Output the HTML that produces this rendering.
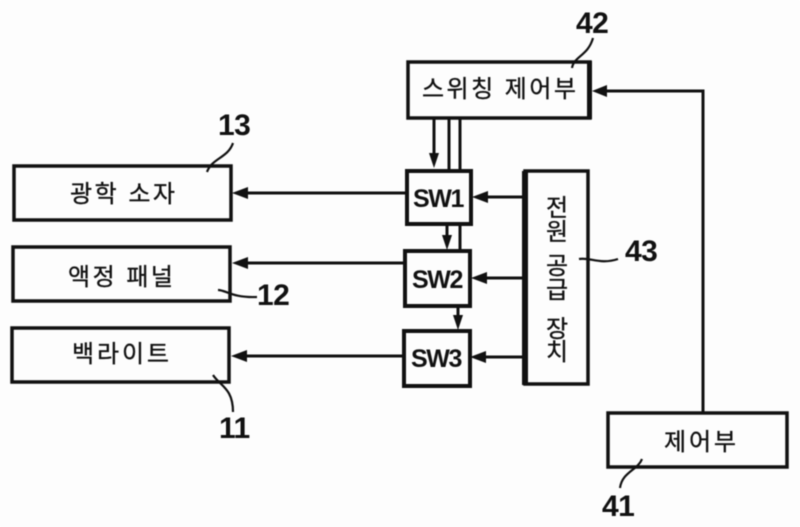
<!DOCTYPE html>
<html><head><meta charset="utf-8">
<style>
html,body{margin:0;padding:0;background:#fdfdfd}
svg{display:block;filter:blur(.4px)}
text{fill:#111}
.k{font-family:"Liberation Sans","Noto Sans CJK KR",sans-serif;font-size:24px;stroke:#111;stroke-width:.35px}
.n{font-family:"Liberation Sans",sans-serif;font-size:30px;font-weight:bold;letter-spacing:-.5px}
.s{font-family:"Liberation Sans",sans-serif;font-size:25px;font-weight:bold;letter-spacing:-1.4px}
</style></head><body>
<svg width="800" height="527" viewBox="0 0 800 527" xmlns="http://www.w3.org/2000/svg">
<rect width="800" height="527" fill="#fdfdfd"/>
<g fill="none" stroke="#111" stroke-width="3.5">
<rect x="408" y="62" width="182" height="56"/>
<rect x="14" y="166" width="217" height="54"/>
<rect x="13" y="247" width="217" height="54"/>
<rect x="12" y="328" width="217" height="54"/>
<rect x="407" y="171" width="64" height="53" stroke-width="4"/>
<rect x="405" y="251" width="65" height="55" stroke-width="4"/>
<rect x="404" y="331" width="66" height="55" stroke-width="4"/>
<rect x="525" y="171" width="63" height="213"/>
<rect x="608" y="413" width="179" height="54"/>
</g>
<rect x="522" y="171" width="6" height="214" fill="#111"/>
<rect x="587" y="61" width="5" height="58" fill="#111"/>
<g fill="none" stroke="#111" stroke-width="3">
<path d="M434 118V160"/>
<path d="M449 118V171M460 118V171"/>
<path d="M460 224V251"/>
<path d="M447 224V240"/>
<path d="M458 306V320"/>
<path d="M703 412V91H605"/>
<path d="M246 193H406"/>
<path d="M246 263H405"/>
<path d="M244 356H404"/>
<path d="M485 197H524"/>
<path d="M484 278H524"/>
<path d="M484 357H523"/>
</g>
<g fill="#111">
<path d="M429 153H439L434 168Z"/>
<path d="M442 235H452L447 250Z"/>
<path d="M453 315H463L458 330Z"/>
<path d="M592 91L607 85V97Z"/>
<path d="M232 193L248 187V199Z"/>
<path d="M232 263L248 257V269Z"/>
<path d="M231 356L247 350V362Z"/>
<path d="M472 197L488 191V203Z"/>
<path d="M471 278L487 272V284Z"/>
<path d="M470 357L486 351V363Z"/>
</g>
<g fill="none" stroke="#111" stroke-width="2.2">
<path d="M572 68C574 56 588 56 593 38"/>
<path d="M207 172C212 158 228 158 233 143"/>
<path d="M218 290C226 290 232 298 257 297"/>
<path d="M213 375C220 386 233 388 233 412"/>
<path d="M642 459C638 470 622 472 620 488"/>
<path d="M579 259C590 257 600 265 618 259"/>
</g>
<text class="k" x="422" y="97" textLength="154">스위칭 제어부</text>
<text class="k" x="70" y="202" textLength="105">광학 소자</text>
<text class="k" x="68" y="285" textLength="105">액정 패널</text>
<text class="k" x="72" y="362" textLength="97">백라이트</text>
<text class="k" x="664" y="450" textLength="72">제어부</text>
<g class="k" text-anchor="middle">
<text x="557" y="216">전</text>
<text x="557" y="240">원</text>
<text x="557" y="274">공</text>
<text x="557" y="298">급</text>
<text x="557" y="337">장</text>
<text x="557" y="360">치</text>
</g>
<text class="s" x="413" y="207">SW1</text>
<text class="s" x="412" y="288">SW2</text>
<text class="s" x="411" y="367">SW3</text>
<text class="n" x="576" y="33">42</text>
<text class="n" x="218" y="135">13</text>
<text class="n" x="257" y="305">12</text>
<text class="n" x="219" y="438">11</text>
<text class="n" x="602" y="516">41</text>
<text class="n" x="625" y="261">43</text>
</svg>
</body></html>
